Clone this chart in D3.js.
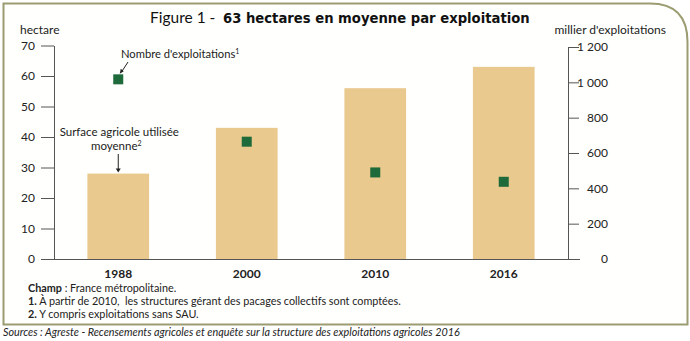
<!DOCTYPE html>
<html><head><meta charset="utf-8">
<script src="https://cdn.jsdelivr.net/npm/d3@7"></script>
<style>
body{margin:0;background:#fff;}
svg{display:block;font-family:Lato,sans-serif;}
</style></head>
<body><svg id="c" width="690" height="341"></svg>
<script>
const years = ["1988","2000","2010","2016"];
const surface = [28, 43, 56, 63];            // hectare (bars)
const exploitations = [1017, 664, 490, 437]; // milliers (squares)
const leftTicks = [0,10,20,30,40,50,60,70];
const rightTicks = [0,200,400,600,800,1000,1200];
const notes = [["1.", " À partir de 2010,  les structures gérant des pacages collectifs sont comptées."],
               ["2.", " Y compris exploitations sans SAU."]];

const svg = d3.select("#c");
const fmt = d => d3.format(",")(d).replace(/,/g, " ");

// frame
svg.append("path")
  .attr("d", "M3.5,3.5 H650 Q687.5,3.5 687.5,42 V324.5 H3.5 Z")
  .attr("fill", "#fffffd").attr("stroke", "#9c9c72").attr("stroke-width", 2);

const x = d3.scaleBand().domain(years).range([54, 568]).paddingInner(0.52).paddingOuter(0.26);
const yL = d3.scaleLinear().domain([0,70]).range([259, 45.5]);
const yR = d3.scaleLinear().domain([0,1200]).range([259, 47]);

// bars
svg.selectAll("rect.bar").data(years).join("rect")
  .attr("x", d => x(d)).attr("width", x.bandwidth())
  .attr("y", (d,i) => yL(surface[i])).attr("height", (d,i) => yL(0) - yL(surface[i]))
  .attr("fill", "#e9c98d");

// axes
const axisColor = "#555";
const gl = svg.append("g").attr("transform","translate(54,0)")
  .call(d3.axisLeft(yL).tickValues(leftTicks).tickSize(13).tickPadding(6).tickSizeOuter(0));
const gr = svg.append("g").attr("transform","translate(568,0)")
  .call(d3.axisRight(yR).tickValues(rightTicks).tickSize(11).tickPadding(29).tickFormat(fmt).tickSizeOuter(0));
gr.selectAll("text").attr("text-anchor","end");
const gx = svg.append("g").attr("transform","translate(0,259)")
  .call(d3.axisBottom(x).tickSize(0).tickPadding(10).tickSizeOuter(0));
gx.select(".domain").attr("d","M54,0.5H580");
gx.selectAll("text").attr("font-size", 12).attr("font-weight", 700).attr("fill","#222").attr("font-family","Lato");
[gl, gr].forEach(g => {
  g.selectAll("text").attr("font-size", 12).attr("fill", "#222").attr("font-family","Lato");
  g.selectAll("line").attr("stroke", axisColor);
  g.select(".domain").attr("stroke", axisColor);
});
gx.select(".domain").attr("stroke", axisColor);

// squares
svg.selectAll("rect.pt").data(years).join("rect")
  .attr("x", d => x(d) + x.bandwidth()/2 - 5).attr("y", (d,i) => yR(exploitations[i]) - 5)
  .attr("width", 10).attr("height", 10).attr("fill", "#1f6a3a");

// title
svg.append("text").attr("x", 150).attr("y", 23).attr("font-size", 15.5).attr("fill","#111").attr("font-family","Lato").text("Figure 1 -");
svg.append("text").attr("x", 223).attr("y", 23).attr("font-size", 13.2).attr("fill","#111")
  .attr("font-weight",700).attr("font-family","DejaVu Sans").text("63 hectares en moyenne par exploitation");

// axis titles
svg.append("text").attr("x", 20).attr("y", 34).attr("font-size", 12).attr("fill","#222").text("hectare");
svg.append("text").attr("x", 666).attr("y", 34).attr("text-anchor","end").attr("font-size", 12).attr("fill","#222").text("millier d'exploitations");

// annotations
const c0 = x(years[0]) + x.bandwidth()/2;
const ann1 = svg.append("text").attr("x", 121).attr("y", 58).attr("font-size", 11.2).attr("fill","#222");
ann1.append("tspan").text("Nombre d'exploitations");
ann1.append("tspan").text("1").attr("font-size", 7).attr("dy", -4);
svg.append("line").attr("x1", 128).attr("y1", 62).attr("x2", c0 + 3).attr("y2", yR(exploitations[0]) - 7).attr("stroke","#222");
svg.append("path").attr("d", `M${c0+1.5},${yR(exploitations[0]) - 5.5} l1,-5 l3,2.5 z`).attr("fill","#222");

svg.append("text").attr("x", c0 + 1).attr("y", 136).attr("text-anchor","middle").attr("font-size", 11.5).attr("fill","#222")
  .text("Surface agricole utilisée");
const a2 = svg.append("text").attr("x", c0 - 2).attr("y", 150).attr("text-anchor","middle").attr("font-size", 11.5).attr("fill","#222");
a2.append("tspan").text("moyenne");
a2.append("tspan").text("2").attr("font-size", 7).attr("dy", -4);
svg.append("line").attr("x1", c0).attr("y1", 154).attr("x2", c0).attr("y2", yL(surface[0]) - 3).attr("stroke","#222");
svg.append("path").attr("d", `M${c0-2.5},${yL(surface[0]) - 5} h5 l-2.5,4 z`).attr("fill","#222");

// footnotes
const f = svg.append("g").attr("font-size", 10.8).attr("fill","#222");
function pair(y, a, b) {
  const t1 = f.append("text").attr("x", 28).attr("y", y).attr("font-weight", 700).text(a);
  const w = t1.node().getComputedTextLength();
  f.append("text").attr("x", 28 + w).attr("y", y).attr("xml:space","preserve").style("white-space","pre").text(b);
}
pair(292, "Champ", " : France métropolitaine.");
notes.forEach((n,i) => pair(305 + i*13, n[0], n[1]));
svg.append("text").attr("x", 3).attr("y", 336).attr("font-size", 10.8).attr("font-style","italic").attr("fill","#222")
  .text("Sources : Agreste - Recensements agricoles et enquête sur la structure des exploitations agricoles 2016");
</script></body></html>
